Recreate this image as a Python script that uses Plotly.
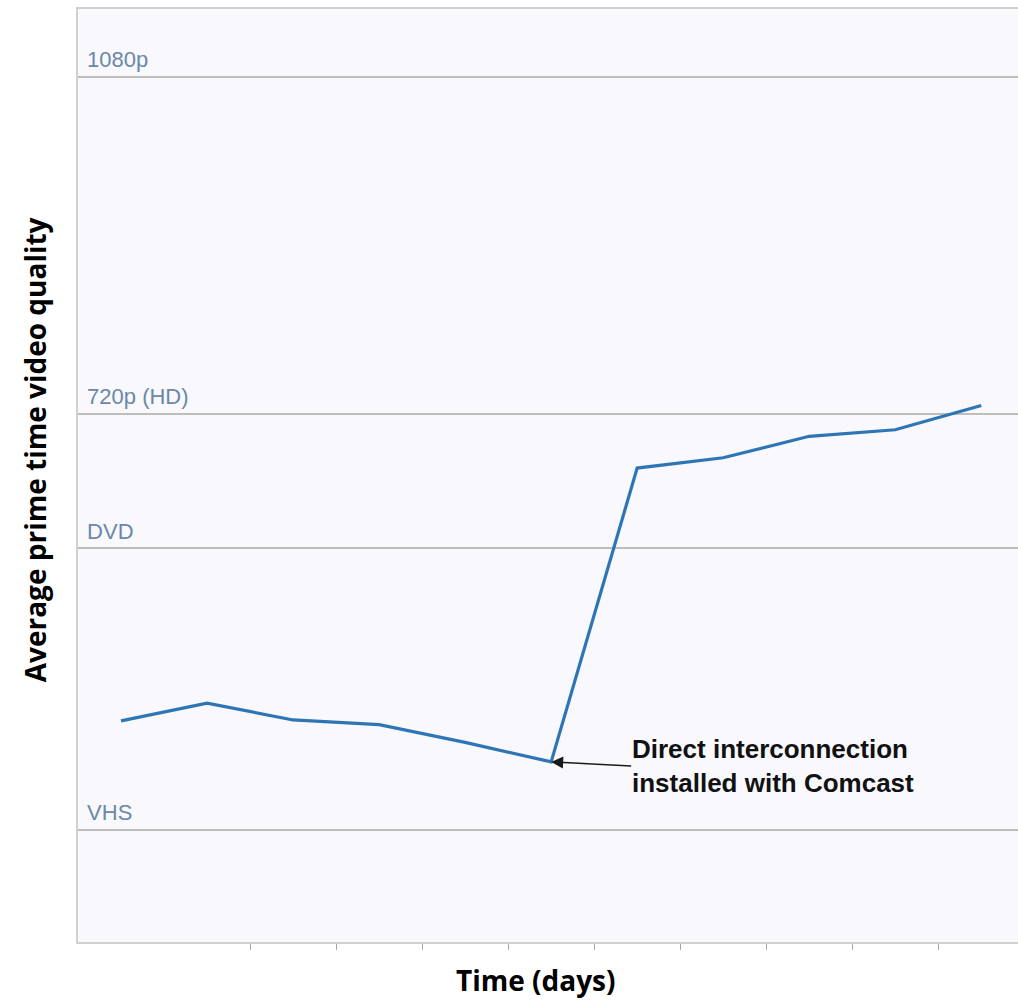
import plotly.graph_objects as go

# Data (quality score on an arbitrary 0-100 scale)
days = list(range(11))
quality = [23.7, 25.6, 23.8, 23.3, 21.4, 19.3, 50.8, 51.9, 54.2, 54.9, 57.5]
tick_vals = [12.0, 42.2, 56.6, 92.75]
tick_text = ["VHS", "DVD", "720p (HD)", "1080p"]
x_tick_vals = [i - 0.5 for i in range(11)]
annot_index = 5
annot_text = "<b>Direct interconnection<br>installed with Comcast</b>"
x_title = "<b>Time (days)</b>"
y_title = "<b>Average prime time video quality</b>"

fig = go.Figure()
fig.add_trace(go.Scatter(
    x=days, y=quality, mode="lines",
    line=dict(color="#2e75b6", width=3.2),
    hoverinfo="skip", showlegend=False,
))

fig.add_annotation(
    x=days[annot_index], y=quality[annot_index],
    text=annot_text, showarrow=True,
    arrowhead=2, arrowsize=1.6, arrowwidth=1.5, arrowcolor="#1a1a1a",
    ax=80, ay=4, xanchor="left", yanchor="middle", align="left",
    font=dict(family="Liberation Sans, Arial", size=26, color="#111111"),
    standoff=0, borderpad=0,
)

title_font = dict(family="Open Sans", size=28, color="#000000")
fig.add_annotation(
    text=x_title, xref="paper", yref="paper", x=0.487, y=-0.041,
    showarrow=False, xanchor="center", yanchor="middle", font=title_font,
)
fig.add_annotation(
    text=y_title, xref="paper", yref="paper", x=-0.0457, y=0.527,
    showarrow=False, xanchor="center", yanchor="middle", textangle=-90,
    font=title_font,
)

fig.update_layout(
    width=1018, height=1001,
    margin=dict(l=78, r=0, t=9, b=59),
    paper_bgcolor="white", plot_bgcolor="#f8f8fd",
    xaxis=dict(
        range=[-0.5, 10.427], tickmode="array", tickvals=x_tick_vals,
        showticklabels=False, ticks="outside", ticklen=6, tickcolor="#a8a8a8",
        showgrid=False, zeroline=False, showline=True, linecolor="#d0d0d0",
        linewidth=1.5, mirror=True,
    ),
    yaxis=dict(
        range=[0, 100], tickmode="array", tickvals=tick_vals, ticktext=tick_text,
        ticklabelposition="inside top", ticks="", ticklabelstandoff=10,
        ticklabelshift=-2,
        tickfont=dict(family="Liberation Sans, Arial", size=22, color="#6b88a8"),
        showgrid=True, gridcolor="#bdbdbd", gridwidth=1.5,
        zeroline=False, showline=True, linecolor="#d0d0d0", linewidth=1.5,
    ),
)

fig.write_html(
    "out.html",
    config={"displayModeBar": False},
    post_script="document.body.style.margin='0';document.body.style.overflow='hidden';",
)
